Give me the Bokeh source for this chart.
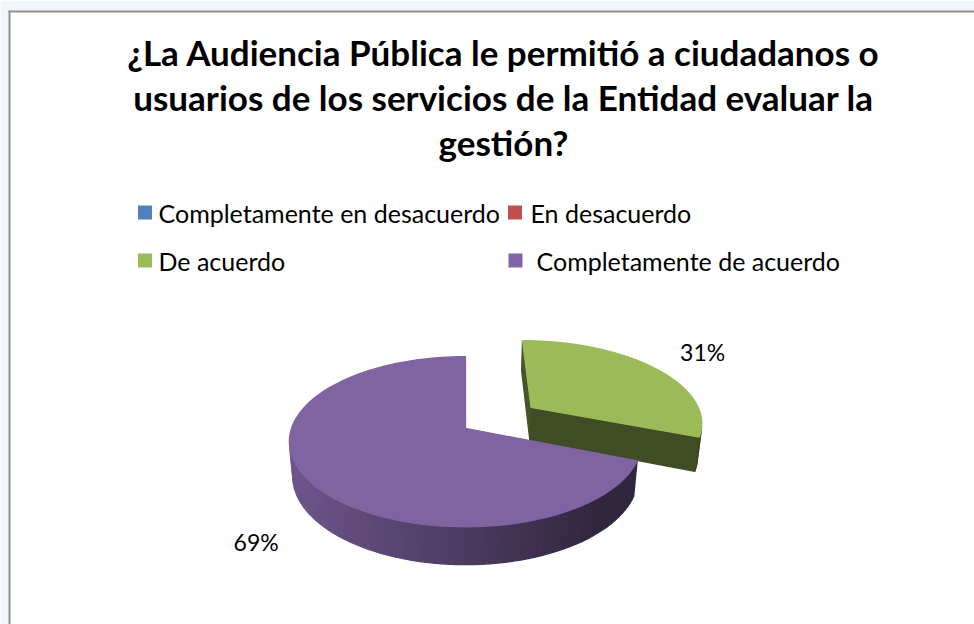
import numpy as np
from bokeh.plotting import figure
from bokeh.models import Range1d
from bokeh.core.properties import value
from bokeh.embed import file_html
from bokeh.resources import INLINE

# ---------------- data ----------------
title_lines = [
    "¿La Audiencia Pública le permitió a ciudadanos o",
    "usuarios de los servicios de la Entidad evaluar la",
    "gestión?",
]
categories = ["Completamente en desacuerdo", "En desacuerdo", "De acuerdo", "Completamente de acuerdo"]
percent = [0, 0, 31, 69]
colors = ["#4F81BD", "#C0504D", "#9BBB59", "#8064A2"]
explode = [0.0, 0.0, 0.474, 0.0]

# ---------------- layout ----------------
W, H = 974, 624
FONT = value("Lato")
p = figure(width=W, height=H, x_range=Range1d(0, W), y_range=Range1d(H, 0),
           output_backend="svg", toolbar_location=None, min_border=0,
           x_axis_location=None, y_axis_location=None)
p.xgrid.visible = False
p.ygrid.visible = False
p.outline_line_color = None
p.background_fill_color = "white"
p.border_fill_color = "white"

# frame decoration (page background strips and chart-area border)
BG = "#F2F5F9"
p.quad(left=[0, 0], right=[W, 8], top=[0, 0], bottom=[10, H], fill_color=BG, line_color=None)
p.quad(left=[8], right=[W], top=[10], bottom=[12], fill_color="#8F8F8F", line_color=None)
p.quad(left=[8], right=[10], top=[10], bottom=[H], fill_color="#8F8F8F", line_color=None)

# ---------------- 3D pie projection ----------------
alpha = np.radians(28.5)
sa, ca = np.sin(alpha), np.cos(alpha)
DIST, FOC, CX, CY, THK = 5.66, 985.0, 465.0, 428.0, 0.226
CAM = np.array([0.0, DIST * sa, DIST * ca])


def proj(X, Y, Z):
    X = np.asarray(X, float)
    Y = np.asarray(Y, float)
    Z = np.asarray(Z, float)
    ry = Y - DIST * sa
    rz = Z - DIST * ca
    depth = -(ry * sa + rz * ca)
    u = ry * ca - rz * sa
    return CX + FOC * X / depth, CY - FOC * u / depth


def shade(hexcol, f):
    h = hexcol.lstrip("#")
    r, g, b = (int(h[i:i + 2], 16) for i in (0, 2, 4))
    return "#%02x%02x%02x" % tuple(max(0, min(255, int(round(c * f)))) for c in (r, g, b))


slices = []
start = 0.0
for cat, pct, col, e in zip(categories, percent, colors, explode):
    a1 = start + pct / 100.0 * 2 * np.pi
    if pct > 0:
        slices.append((cat, pct, col, e, start, a1))
    start = a1

# painter's order: back-most slice first
slices.sort(key=lambda s: -np.cos((s[4] + s[5]) / 2))

xs, ys, fills = [], [], []
labels_x, labels_y, labels_t = [], [], []
for cat, pct, col, e, a0, a1 in slices:
    mid = (a0 + a1) / 2
    ox, oz = e * np.sin(mid), -e * np.cos(mid)
    n = max(8, int((a1 - a0) / (2 * np.pi) * 160))
    psi = np.linspace(a0, a1, n)
    rX, rZ = ox + np.sin(psi), oz - np.cos(psi)
    tx, ty = proj(rX, 0.0, rZ)
    bx, by = proj(rX, -THK, rZ)
    atx, aty = proj(ox, 0.0, oz)
    abx, aby = proj(ox, -THK, oz)
    # radial cut faces
    for ang, sign, fac in ((a0, -1, 0.45), (a1, 1, 0.41)):
        nrm = sign * np.array([np.cos(ang), 0.0, np.sin(ang)])
        pm = np.array([ox + 0.5 * np.sin(ang), -THK / 2, oz - 0.5 * np.cos(ang)])
        if np.dot(nrm, CAM - pm) > 0:
            px, py = proj(ox + np.sin(ang), 0.0, oz - np.cos(ang))
            qx, qy = proj(ox + np.sin(ang), -THK, oz - np.cos(ang))
            xs.append([float(atx), float(px), float(qx), float(abx)])
            ys.append([float(aty), float(py), float(qy), float(aby)])
            fills.append(shade(col, fac))
    # outer wall strips with horizontal gradient
    x_lo, x_hi = CX - 180, CX + 130
    for k in range(n - 1):
        m = (psi[k] + psi[k + 1]) / 2
        nrm = np.array([np.sin(m), 0.0, -np.cos(m)])
        pm = np.array([ox + np.sin(m), -THK / 2, oz - np.cos(m)])
        if np.dot(nrm, CAM - pm) > 0:
            sx = (tx[k] + tx[k + 1]) / 2
            t = min(1.0, max(0.0, (sx - x_lo) / (x_hi - x_lo)))
            fac = 0.86 - 0.47 * t
            xs.append([tx[k], tx[k + 1], bx[k + 1], bx[k]])
            ys.append([ty[k], ty[k + 1], by[k + 1], by[k]])
            fills.append(shade(col, fac))
    # top face
    xs.append([float(atx)] + list(tx))
    ys.append([float(aty)] + list(ty))
    fills.append(col)
    # data label
    front = -np.cos(mid) > 0
    r = 1.32 if front else 1.45
    lx, ly = proj(ox + r * np.sin(mid), -1.2 * THK if front else 0.0, oz - r * np.cos(mid))
    labels_x.append(float(lx))
    labels_y.append(float(ly))
    labels_t.append("%d%%" % pct)

p.patches(xs=[list(map(float, a)) for a in xs], ys=[list(map(float, a)) for a in ys],
          fill_color=fills, line_color=fills, line_width=1.3)

p.text(x=labels_x, y=labels_y, text=labels_t, text_font=FONT, text_font_size="23px",
       text_color="#000000", text_align="center", text_baseline="middle")

# ---------------- title ----------------
title_y = [51, 96, 141]
p.text(x=[503] * len(title_lines), y=title_y, text=title_lines, text_font=FONT,
       text_font_size="35px", text_font_style="bold", text_color="#000000",
       text_align="center", text_baseline="middle")

# ---------------- legend ----------------
leg_sq_x = [144.5, 514.5, 144.5, 515.0]
leg_sq_y = [212, 212, 260, 260]
leg_tx = [158, 530, 158, 536]
p.scatter(x=leg_sq_x, y=leg_sq_y, marker="square", size=14, fill_color=colors, line_color=None)
p.text(x=leg_tx, y=leg_sq_y, text=categories, text_font=FONT, text_font_size="25px",
       text_color="#000000", text_align="left", text_baseline="middle")

html = file_html(p, INLINE, title="Audiencia Pública")
html = html.replace("<body>", '<body style="margin:0;background-color:#F2F5F9">', 1)
open("out.html", "w").write(html)
